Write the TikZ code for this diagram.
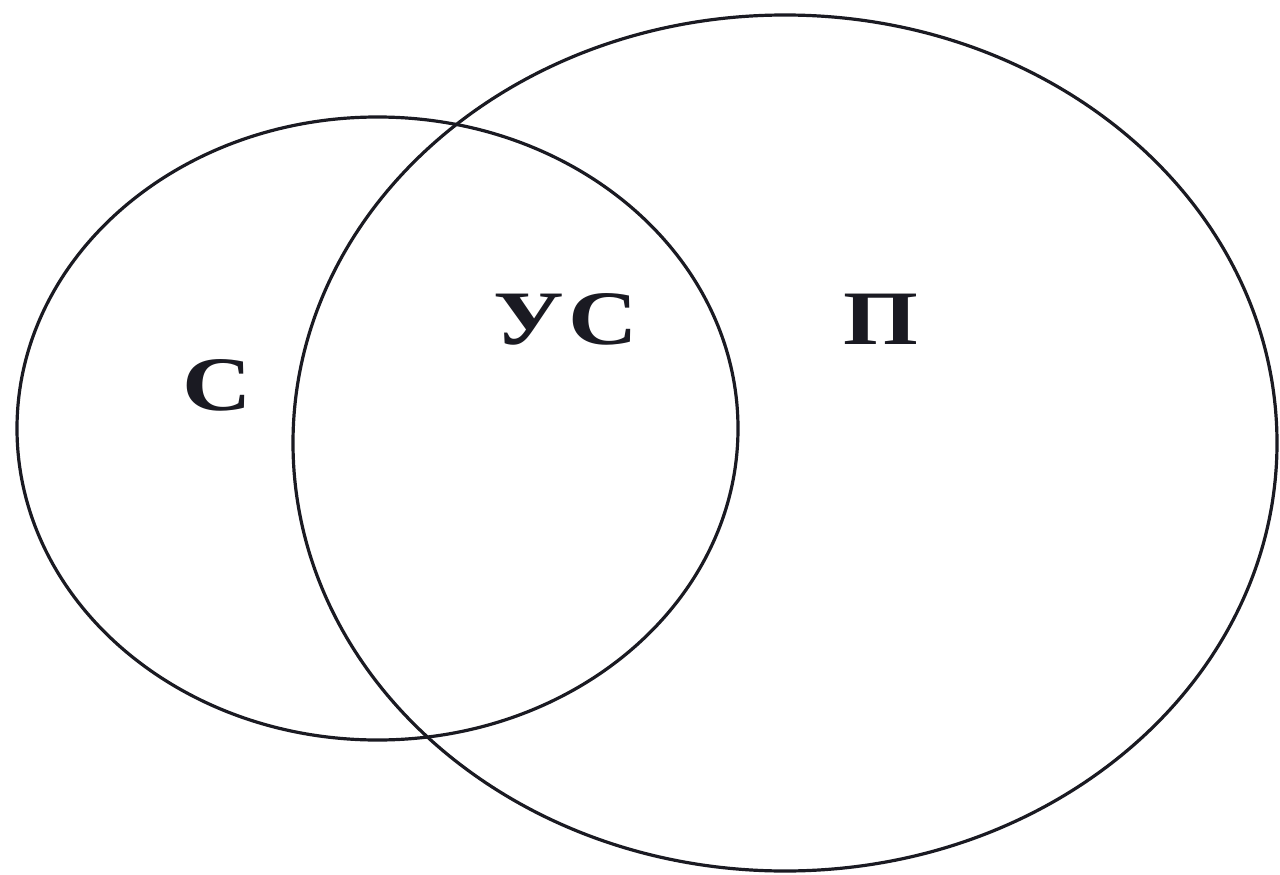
\documentclass[tikz,border=0pt]{standalone}
\usepackage{fontspec}
\setmainfont{Liberation Serif}
\definecolor{ink}{HTML}{1A1A22}
\begin{document}
\begin{tikzpicture}[x=1pt,y=-1pt,
  setline/.style={draw=ink,line width=3.2pt},
  setlabel/.style={inner sep=0pt,text=ink,font=\fontsize{77}{77}\selectfont\bfseries}]
\useasboundingbox[fill=white] (0,0) rectangle (1280,875);
\draw[setline] (377.5,428.5) ellipse [x radius=360.5, y radius=311.5];
\draw[setline] (785,443) ellipse [x radius=492, y radius=428];
\node[setlabel] (c) at (217,385) {\scalebox{1.25}[1]{С}};
\node[setlabel] (uc) at (566,319) {\scalebox{1.25}[1]{У\kern4pt С}};
\node[setlabel] (p) at (881,319) {\scalebox{1.25}[1]{П}};
\end{tikzpicture}
\end{document}
